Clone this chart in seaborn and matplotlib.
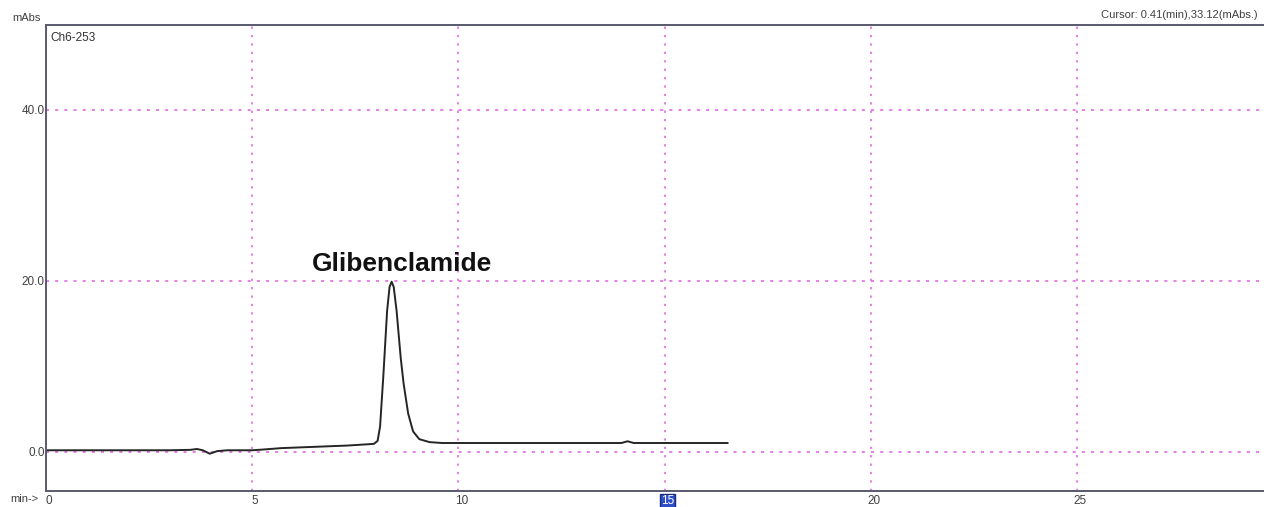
import pandas as pd
import matplotlib.pyplot as plt
import matplotlib.transforms as mtransforms
import seaborn as sns

# chromatogram trace (time in min, absorbance in mAbs)
time_min = [0.0, 1.0, 2.0, 3.0, 3.5, 3.66, 3.8, 3.97, 4.15, 4.4, 5.0, 5.3, 5.7,
            6.5, 7.3, 7.8, 7.95, 8.04, 8.10, 8.18, 8.27, 8.33, 8.38, 8.43, 8.50,
            8.60, 8.67, 8.78, 8.90, 9.05, 9.3, 9.6, 10.5, 12.0, 13.5, 13.95, 14.1,
            14.25, 15.0, 16.0, 16.53]
absorbance = [0.2, 0.2, 0.2, 0.2, 0.25, 0.35, 0.2, -0.2, 0.1, 0.2, 0.2, 0.3, 0.45,
              0.6, 0.75, 0.9, 0.95, 1.3, 3.0, 9.0, 16.5, 19.3, 19.9, 19.3, 16.5,
              11.0, 8.0, 4.5, 2.4, 1.5, 1.15, 1.05, 1.05, 1.05, 1.05, 1.05, 1.25,
              1.05, 1.05, 1.05, 1.05]

x_ticks = [0, 5, 10, 15, 20, 25]
y_ticks = [0, 20, 40]
y_tick_labels = ["0.0", "20.0", "40.0"]
peak_name = "Glibenclamide"
peak_label_pos = (8.62, 20.6)

df = pd.DataFrame({"time": time_min, "mAbs": absorbance})

sns.set_style("white")
plt.rcParams["font.family"] = ["Liberation Sans", "DejaVu Sans"]

fig = plt.figure(figsize=(12.64, 5.07), dpi=100)
ax = fig.add_axes([46 / 1264, 16 / 507, 1 - 46 / 1264, (491 - 25) / 507])

sns.lineplot(data=df, x="time", y="mAbs", ax=ax, color="#252525", linewidth=1.4)

ax.set_xlim(0, 29.53)
ax.set_ylim(-4.56, 49.9)

grid_color = "#dd5fdd"
for xv in x_ticks[1:]:
    ax.axvline(xv, color=grid_color, linestyle=(0, (1.5, 4)), linewidth=1.1, zorder=0)
for yv in y_ticks:
    ax.axhline(yv, color=grid_color, linestyle=(0, (2, 4)), linewidth=1.1, zorder=0)

ax.set_xticks(x_ticks)
ax.set_xticklabels([str(t) for t in x_ticks])
ax.set_yticks(y_ticks)
ax.set_yticklabels(y_tick_labels)
ax.tick_params(axis="both", length=0, labelsize=8.5, labelcolor="#404040")
ax.tick_params(axis="x", pad=3)
ax.tick_params(axis="y", pad=1)
shift = mtransforms.ScaledTranslation(3 / 100, 0, fig.dpi_scale_trans)
for lab in ax.get_xticklabels():
    lab.set_transform(lab.get_transform() + shift)
    if lab.get_text() == "15":
        lab.set_color("white")
        lab.set_bbox(dict(facecolor="#2f4fc8", edgecolor="#1a2a80", pad=0.8))

ax.set_xlabel("")
ax.set_ylabel("")

for side in ["left", "top", "bottom"]:
    ax.spines[side].set_color("#5a5a70")
    ax.spines[side].set_linewidth(1.4)
ax.spines["right"].set_visible(False)

ax.text(peak_label_pos[0], peak_label_pos[1], peak_name, ha="center", va="bottom",
        fontsize=19, fontweight="bold", color="#111111")
ax.text(0.004, 0.985, "Ch6-253", transform=ax.transAxes, ha="left", va="top",
        fontsize=8.5, color="#333333")

fig.text(12 / 1264, 1 - 18 / 507, "mAbs", ha="left", va="center", fontsize=8, color="#404040")
fig.text(1258 / 1264, 1 - 15 / 507, "Cursor: 0.41(min),33.12(mAbs.)", ha="right",
         va="center", fontsize=8, color="#404040")
fig.text(10 / 1264, 1 - 499 / 507, "min->", ha="left", va="center", fontsize=8, color="#404040")

fig.savefig("out.png", dpi=100)
